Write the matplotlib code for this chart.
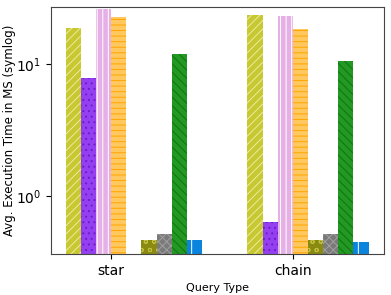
import numpy as np
from matplotlib import pyplot as plt

# query types on the x axis
queries = ['star', 'chain']

# one value per bar, in drawing order within each group (None = bar not drawn, slot skipped)
star_values = [22.0, 7.4, 33.6, 28.2, 0.0, 0.245, 0.343, 12.5, 0.233]
chain_values = [29.5, 0.554, 29.0, 21.6, None, 0.245, 0.343, 10.75, 0.211]

faces = ['#c8c832', '#9440f0', '#e6b0e6', '#ffc860', 'white', '#8a8a10', '#7a7a7a', '#229922', '#0a84dc']
edges = ['#ececa0', '#6a1cc8', '#ffffff', '#ffa500', 'white', '#c0c040', '#a0a0a0', '#157015', '#ffffff']
hatches = ['////', '...', '|||', '---', '', 'oo', 'xxxx', '\\\\\\\\', '|']


def PlotBars(ax):
    w = 1.0 / 12
    for g, values in enumerate([star_values, chain_values]):
        slot = 0
        for i, v in enumerate(values):
            if v is None:
                continue
            ax.bar(g + (slot - 2.5) * w, v, w, color=faces[i], edgecolor=edges[i],
                   hatch=hatches[i], linewidth=0)
            slot += 1


def main():
    plt.rcParams['hatch.linewidth'] = 0.7
    fig = plt.figure(figsize=(3.91, 2.95), dpi=100)
    ax = fig.add_axes([0.130, 0.139, 0.852, 0.838])
    PlotBars(ax)
    ax.set_yscale('symlog', linthresh=2)
    ax.set_ylim(0, 35.4)
    ax.set_yticks([1, 10])
    ax.set_yticklabels([r'$10^0$', r'$10^1$'])
    ax.yaxis.set_minor_locator(plt.NullLocator())
    ax.set_xlim(-0.332, 1.501)
    ax.set_xticks([0, 1])
    ax.set_xticklabels(queries, fontsize=10)
    ax.tick_params(axis='y', labelsize=10)
    ax.set_xlabel('Query Type', fontsize=8)
    ax.set_ylabel('Avg. Execution Time in MS (symlog)', fontsize=8.5, labelpad=0)
    for s in ax.spines.values():
        s.set_color('#444444')
    fig.savefig('out.png', dpi=100)


if __name__ == "__main__":
    main()
